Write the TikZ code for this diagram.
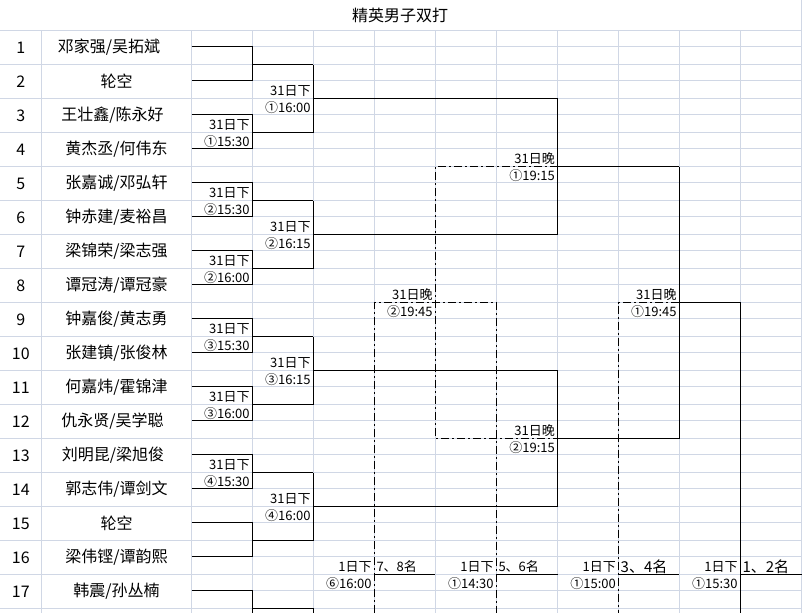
\documentclass[tikz,border=0pt]{standalone}
\usepackage{fontspec}
\setmainfont{Noto Sans CJK SC}
\definecolor{gridBlue}{HTML}{D0D7E5}
\newcommand{\bigText}{\fontsize{16}{18}\selectfont}
\newcommand{\smallText}{\fontsize{13}{15}\selectfont}
\tikzstyle{gridLine} = [draw=gridBlue, line width=1pt]
\tikzstyle{bracket} = [draw=black, line width=1pt]
\tikzstyle{loserLine} = [draw=black, line width=1pt, dash pattern=on 8pt off 3pt on 2pt off 3pt]
\tikzstyle{seed} = [inner sep=0pt, font=\bigText]
\tikzstyle{team} = [inner sep=0pt, font=\bigText]
\tikzstyle{dayLabel} = [inner sep=0pt, anchor=base east, xshift=-2.5pt, yshift=3pt, font=\smallText]
\tikzstyle{timeLabel} = [inner sep=0pt, anchor=base east, xshift=-2.5pt, yshift=2.5pt, font=\smallText]
\tikzstyle{placeLabel} = [inner sep=0pt, anchor=base west, xshift=2pt, yshift=3pt, font=\smallText]
\tikzstyle{finalPlaceLabel} = [inner sep=0pt, anchor=base west, xshift=2pt, yshift=2.5pt, font=\fontsize{15}{17}\selectfont]

\begin{document}
\begin{tikzpicture}[x=1pt, y=-1pt]
\useasboundingbox (0,0) rectangle (803,613);

% column edges and row lines of the sheet
\coordinate (top) at (0,0);
\coordinate (bottom) at (0,613);
\foreach \i/\xx in {0/0, 1/41.5, 2/191.5, 3/252.3, 4/313.3, 5/374.3, 6/435.3, 7/496.3, 8/557.5, 9/618.5, 10/679.3, 11/740.3, 12/801.5}
  \coordinate (x\i) at (\xx,0);
\foreach \n in {1,...,18} {
  \coordinate (t\n) at (0,{-3.5+\n*34});
  \coordinate (m\n) at (0,{12.5+\n*34});
}

% grid
\foreach \n in {1,...,18} \draw [gridLine] (x0 |- t\n) -- (x12 |- t\n);
\foreach \n in {1,...,17} \draw [gridLine] (x2 |- m\n) -- (x12 |- m\n);
\foreach \i in {1,...,11} \draw [gridLine] (x\i |- t1) -- (x\i |- bottom);
\draw [gridLine] (x12 |- top) -- (x12 |- bottom);

\node (title) [font=\bigText] at (400,15.5) {精英男子双打};

\foreach \n/\name/\dx in {1/{邓家强/吴拓斌}/-7.5, 2/轮空/0, 3/{王壮鑫/陈永好}/-4, 4/{黄杰丞/何伟东}/0,
    5/{张嘉诚/邓弘轩}/0, 6/{钟赤建/麦裕昌}/0, 7/{梁锦荣/梁志强}/0, 8/{谭冠涛/谭冠豪}/0,
    9/{钟嘉俊/黄志勇}/0, 10/{张建镇/张俊林}/0, 11/{何嘉炜/霍锦津}/0, 12/{仇永贤/吴学聪}/-4,
    13/{刘明昆/梁旭俊}/-3.5, 14/{郭志伟/谭剑文}/0, 15/轮空/0, 16/{梁伟铿/谭韵熙}/0, 17/{韩震/孙丛楠}/0} {
  \node (seed\n) [seed] at (20.75,{13.5+\n*34}) {\n};
  \node (team\n) [team] at ({116.5+\dx},{13.5+\n*34}) {\name};
}

% first round
\foreach \a/\b in {1/2, 3/4, 5/6, 7/8, 9/10, 11/12, 13/14, 15/16} {
  \draw [bracket] (x2 |- m\a) -- (x3 |- m\a) -- (x3 |- m\b) -- (x2 |- m\b);
  \draw [bracket] (x3 |- t\b) -- (x4 |- t\b);
}
\draw [bracket] (x2 |- m17) -- (x3 |- m17) -- (x3 |- bottom);
\draw [bracket] (x3 |- t18) -- (x4 |- t18) -- (x4 |- bottom);

% second round
\foreach \a/\b/\c in {2/3/4, 6/7/8, 10/11/12, 14/15/16} {
  \draw [bracket] (x4 |- t\a) -- (x4 |- t\c);
  \draw [bracket] (x4 |- t\b) -- (x8 |- t\b);
}

% quarter and semi finals
\draw [bracket] (x8 |- t3) -- (x8 |- t7);
\draw [bracket] (x8 |- t11) -- (x8 |- t15);
\draw [bracket] (x8 |- t5) -- (x10 |- t5);
\draw [bracket] (x8 |- t13) -- (x10 |- t13);
\draw [bracket] (x10 |- t5) -- (x10 |- t13);
\draw [bracket] (x10 |- t9) -- (x11 |- t9) -- (x11 |- bottom);

% losers
\draw [loserLine] (x8 |- t5) -- (x6 |- t5) -- (x6 |- t13) -- (x8 |- t13);
\draw [loserLine] (x5 |- bottom) -- (x5 |- t9) -- (x7 |- t9) -- (x7 |- bottom);
\draw [loserLine] (x10 |- t9) -- (x9 |- t9) -- (x9 |- bottom);

% places
\foreach \a/\b in {5/6, 7/8, 9/10, 11/12}
  \draw [bracket] (x\a |- t17) -- (x\b |- t17);

% match times
\foreach \r/\t in {4/①15:30, 6/②15:30, 8/②16:00, 10/③15:30, 12/③16:00, 14/④15:30} {
  \node (dayOne\r) [dayLabel] at (x3 |- t\r) {31日下};
  \node (timeOne\r) [timeLabel] at (x3 |- m\r) {\t};
}
\foreach \r/\t in {3/①16:00, 7/②16:15, 11/③16:15, 15/④16:00} {
  \node (dayTwo\r) [dayLabel] at (x4 |- t\r) {31日下};
  \node (timeTwo\r) [timeLabel] at (x4 |- m\r) {\t};
}
\node (dayQuarterA) [dayLabel] at (x8 |- t5) {31日晚};
\node (timeQuarterA) [timeLabel] at (x8 |- m5) {①19:15};
\node (dayQuarterB) [dayLabel] at (x8 |- t13) {31日晚};
\node (timeQuarterB) [timeLabel] at (x8 |- m13) {②19:15};
\node (dayLoserSemi) [dayLabel] at (x6 |- t9) {31日晚};
\node (timeLoserSemi) [timeLabel] at (x6 |- m9) {②19:45};
\node (daySemi) [dayLabel] at (x10 |- t9) {31日晚};
\node (timeSemi) [timeLabel] at (x10 |- m9) {①19:45};

\node (daySeven) [dayLabel] at (x5 |- t17) {1日下};
\node (timeSeven) [timeLabel] at (x5 |- m17) {⑥16:00};
\node (placeSeven) [placeLabel] at (x5 |- t17) {7、8名};
\node (dayFive) [dayLabel] at (x7 |- t17) {1日下};
\node (timeFive) [timeLabel] at (x7 |- m17) {①14:30};
\node (placeFive) [placeLabel] at (x7 |- t17) {5、6名};
\node (dayThree) [dayLabel] at (x9 |- t17) {1日下};
\node (timeThree) [timeLabel] at (x9 |- m17) {①15:00};
\node (placeThree) [finalPlaceLabel] at (x9 |- t17) {3、4名};
\node (dayFinal) [dayLabel] at (x11 |- t17) {1日下};
\node (timeFinal) [timeLabel] at (x11 |- m17) {①15:30};
\node (placeFinal) [finalPlaceLabel] at (x11 |- t17) {1、2名};
\end{tikzpicture}
\end{document}
